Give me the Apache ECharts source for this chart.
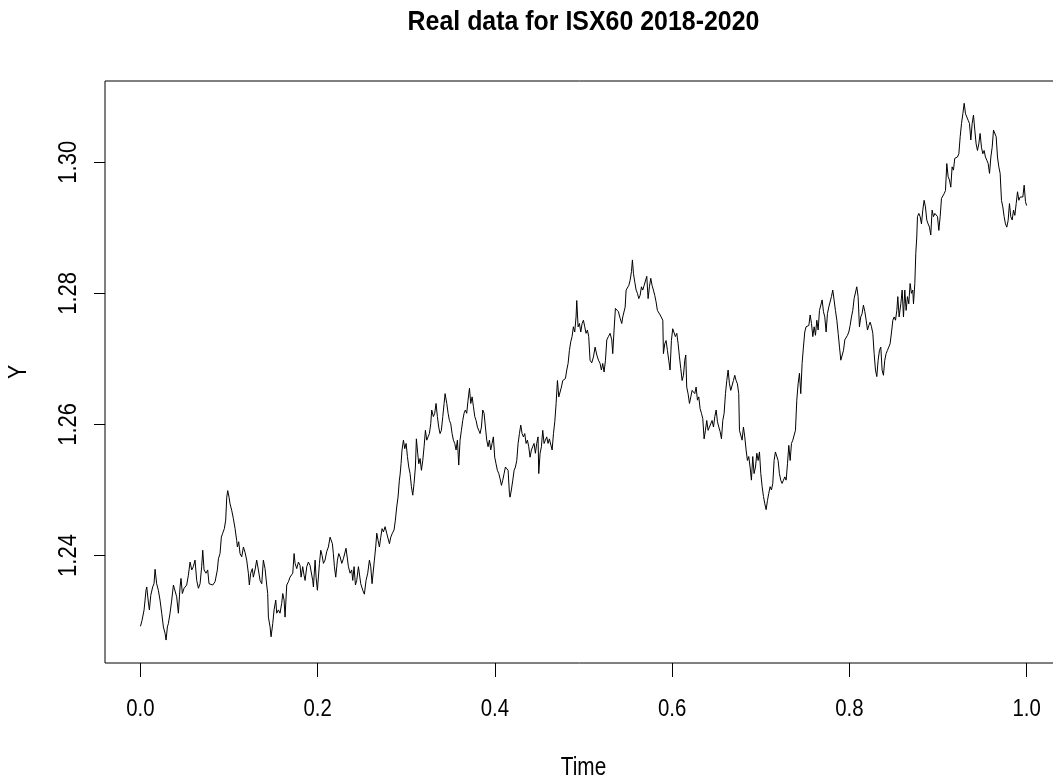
<!DOCTYPE html>
<html>
<head>
<meta charset="utf-8">
<title>Real data for ISX60 2018-2020</title>
<script src="https://cdn.jsdelivr.net/npm/echarts@6/dist/echarts.min.js"></script>
<style>
  html, body { margin: 0; padding: 0; background: #ffffff; }
  #chart { width: 1053px; height: 783px; }
</style>
</head>
<body>
<div id="chart"></div>
<script>
// Scaled time (0..1) for each observation
const times = [
  0.0000,0.0018,0.0041,0.0052,0.0063,0.0071,0.0089,0.0101,0.0116,0.0138,0.0153,0.0165,0.0183,0.0202,0.0221,0.0240,0.0259,0.0278,0.0289,0.0304,
  0.0315,0.0334,0.0353,0.0372,0.0390,0.0409,0.0428,0.0447,0.0458,0.0473,0.0492,0.0522,0.0541,0.0560,0.0579,0.0597,0.0616,0.0635,0.0654,0.0673,
  0.0691,0.0703,0.0718,0.0740,0.0759,0.0774,0.0793,0.0816,0.0842,0.0868,0.0880,0.0898,0.0913,0.0928,0.0947,0.0962,0.0974,0.0985,0.1000,0.1011,
  0.1030,0.1049,0.1068,0.1086,0.1094,0.1109,0.1124,0.1143,0.1162,0.1180,0.1199,0.1218,0.1229,0.1244,0.1263,0.1274,0.1293,0.1312,0.1331,0.1350,
  0.1369,0.1387,0.1406,0.1425,0.1436,0.1444,0.1463,0.1474,0.1493,0.1508,0.1527,0.1538,0.1557,0.1575,0.1594,0.1606,0.1621,0.1632,
  0.1651,0.1670,0.1688,0.1719,0.1734,0.1745,0.1764,0.1783,0.1801,0.1813,0.1831,0.1846,0.1858,0.1877,0.1895,0.1914,0.1933,0.1944,0.1952,0.1971,
  0.1982,0.1997,0.2020,0.2035,0.2050,0.2065,0.2083,0.2102,0.2121,0.2140,0.2151,0.2166,0.2177,0.2189,0.2204,0.2223,0.2238,0.2253,0.2272,0.2290,
  0.2309,0.2320,0.2336,0.2347,0.2366,0.2384,0.2396,0.2411,0.2426,0.2441,0.2460,0.2471,0.2486,0.2509,0.2527,0.2546,0.2565,0.2584,0.2599,0.2614,
  0.2629,0.2640,0.2655,0.2667,0.2682,0.2697,0.2712,0.2727,0.2742,0.2761,0.2779,0.2798,0.2810,0.2825,0.2843,0.2862,0.2877,0.2892,0.2907,0.2922,
  0.2930,0.2941,0.2952,0.2968,0.2983,0.2998,0.3013,0.3028,0.3043,0.3058,0.3073,0.3088,0.3103,0.3114,0.3129,0.3141,0.3156,0.3171,0.3186,0.3201,
  0.3216,0.3231,0.3246,0.3261,0.3276,0.3287,0.3306,
  0.3321,0.3336,0.3351,0.3366,0.3381,0.3396,0.3412,0.3427,0.3438,0.3457,0.3472,0.3487,0.3502,0.3517,0.3532,0.3547,0.3562,0.3577,0.3592,0.3607,
  0.3622,0.3637,0.3652,0.3667,0.3682,0.3697,0.3713,0.3728,0.3743,0.3758,0.3773,0.3788,0.3803,0.3818,0.3833,0.3848,0.3863,0.3878,0.3893,0.3908,
  0.3923,0.3938,0.3953,0.3968,0.3983,0.3998,0.4013,0.4028,0.4044,0.4059,0.4074,0.4089,0.4104,0.4119,0.4134,0.4149,0.4164,0.4171,0.4186,0.4202,
  0.4217,0.4232,0.4247,0.4262,0.4277,0.4292,0.4307,0.4322,0.4337,0.4352,0.4367,0.4382,0.4397,0.4412,0.4427,0.4442,0.4457,0.4472,0.4487,0.4495,
  0.4510,0.4525,0.4540,0.4555,0.4570,0.4585,0.4600,0.4615,0.4630,0.4646,0.4661,0.4676,0.4691,0.4706,0.4721,0.4736,0.4751,0.4766,0.4781,0.4796,
  0.4811,0.4826,0.4841,0.4856,0.4871,0.4886,0.4901,0.4916,0.4924,0.4939,0.4954,0.4969,0.4984,0.4999,0.5014,0.5029,0.5044,0.5059,0.5074,
  0.5093,0.5112,0.5131,0.5150,0.5169,0.5187,0.5202,0.5217,0.5232,0.5248,0.5263,0.5281,0.5300,0.5319,0.5330,0.5345,0.5360,0.5375,0.5394,0.5413,
  0.5432,0.5443,0.5458,0.5470,0.5481,0.5496,0.5511,0.5526,0.5541,0.5552,0.5564,0.5579,0.5594,0.5609,0.5624,0.5639,0.5654,0.5669,0.5684,0.5699,
  0.5714,0.5729,0.5744,0.5759,0.5774,0.5789,0.5804,0.5819,0.5834,0.5850,0.5865,0.5880,0.5895,0.5902,0.5917,0.5932,0.5947,0.5962,0.5977,0.5992,
  0.6007,0.6022,0.6037,0.6053,0.6068,0.6083,0.6098,0.6113,0.6128,0.6143,0.6154,0.6165,0.6180,0.6196,0.6211,0.6226,0.6241,0.6256,0.6271,0.6286,
  0.6301,0.6316,0.6331,0.6346,0.6361,0.6376,0.6391,0.6406,0.6421,0.6436,0.6451,0.6467,0.6482,0.6497,0.6512,0.6527,0.6542,0.6557,0.6572,0.6587,
  0.6602,0.6617,0.6632,0.6647,0.6662,0.6677,0.6692,0.6707,0.6722,0.6737,0.6752,0.6760,
  0.6775,0.6790,0.6805,0.6820,0.6835,0.6850,0.6865,0.6880,0.6895,0.6910,0.6925,0.6941,0.6956,0.6971,0.6986,0.7001,0.7016,0.7031,0.7046,0.7061,
  0.7076,0.7091,0.7106,0.7121,0.7136,0.7151,0.7166,0.7181,0.7196,0.7211,0.7226,0.7241,0.7257,0.7272,0.7287,0.7302,0.7317,0.7332,0.7347,0.7362,
  0.7377,0.7392,0.7407,0.7422,0.7437,0.7452,0.7467,0.7482,0.7497,0.7512,0.7527,0.7543,0.7558,0.7573,0.7588,0.7603,0.7618,0.7633,0.7648,0.7663,
  0.7678,0.7693,0.7708,0.7723,0.7738,0.7753,0.7768,0.7783,0.7798,0.7813,0.7828,0.7843,0.7859,0.7874,0.7889,0.7904,0.7919,0.7934,0.7949,0.7964,
  0.7979,0.7994,0.8009,0.8024,0.8039,0.8054,0.8069,0.8084,0.8099,0.8114,0.8129,0.8144,0.8159,0.8175,0.8190,0.8205,0.8220,0.8235,0.8250,0.8265,
  0.8280,0.8295,0.8310,0.8325,0.8340,0.8355,0.8370,0.8385,0.8400,0.8415,0.8430,0.8445,
  0.8460,0.8479,0.8491,0.8506,0.8521,0.8536,0.8547,0.8562,0.8581,0.8596,0.8611,0.8626,0.8641,0.8656,0.8671,0.8686,0.8701,0.8716,0.8724,0.8739,
  0.8750,0.8761,0.8769,0.8784,0.8799,0.8814,0.8829,0.8844,0.8859,0.8874,0.8889,0.8904,0.8919,0.8934,0.8950,0.8965,0.8980,0.8995,0.9010,0.9025,
  0.9040,0.9055,0.9070,0.9085,0.9100,0.9115,0.9130,0.9145,0.9160,0.9175,0.9190,0.9205,0.9220,0.9236,0.9251,0.9266,0.9281,0.9296,0.9311,0.9326,
  0.9341,0.9356,0.9371,0.9386,0.9401,0.9416,0.9431,0.9446,0.9461,0.9476,0.9491,0.9506,0.9521,0.9536,0.9552,0.9567,0.9582,0.9597,0.9612,0.9627,
  0.9642,0.9657,0.9672,0.9687,0.9702,0.9717,0.9732,0.9747,0.9762,0.9777,0.9792,0.9807,0.9822,0.9838,0.9853,0.9868,0.9883,0.9898,0.9913,0.9928,
  0.9943,0.9958,0.9973,0.9988,1.0000
];

// Index level Y at each time
const values = [
  1.2292,1.2301,1.2317,1.2332,1.2347,1.2352,1.2329,1.2317,1.2339,1.2352,1.2357,1.2379,1.2357,1.2347,1.2332,1.2312,1.2291,1.2281,1.2271,1.2291,
  1.2296,1.2312,1.2332,1.2355,1.2355,1.2337,1.2312,1.2352,1.2365,1.2342,1.2350,1.2355,1.2370,1.2390,1.2378,1.2383,1.2393,1.2362,1.2350,1.2357,
  1.2383,1.2408,1.2378,1.2373,1.2378,1.2357,1.2355,1.2355,1.2360,1.2378,1.2395,1.2403,1.2428,1.2434,1.2441,1.2454,1.2489,1.2499,1.2489,1.2479,
  1.2469,1.2456,1.2441,1.2423,1.2413,1.2421,1.2403,1.2398,1.2413,1.2405,1.2393,1.2373,1.2355,1.2373,1.2380,1.2367,1.2378,1.2393,1.2378,1.2362,
  1.2357,1.2393,1.2380,1.2355,1.2342,1.2306,1.2291,1.2276,1.2296,1.2317,1.2332,1.2312,1.2317,1.2312,1.2327,1.2342,1.2332,1.2306,
  1.2355,1.2360,1.2367,1.2373,1.2403,1.2388,1.2380,1.2390,1.2385,1.2367,1.2383,1.2370,1.2362,1.2383,1.2390,1.2385,1.2383,1.2362,1.2352,1.2393,
  1.2367,1.2347,1.2388,1.2408,1.2400,1.2388,1.2393,1.2406,1.2413,1.2428,1.2431,1.2418,1.2403,1.2383,1.2367,1.2393,1.2403,1.2398,1.2388,1.2395,
  1.2398,1.2411,1.2408,1.2383,1.2373,1.2378,1.2362,1.2383,1.2355,1.2362,1.2383,1.2385,1.2357,1.2347,1.2341,1.2362,1.2373,1.2393,1.2383,1.2357,
  1.2355,1.2393,1.2413,1.2434,1.2423,1.2413,1.2428,1.2441,1.2436,1.2444,1.2434,1.2436,1.2418,1.2428,1.2434,1.2439,1.2454,1.2474,1.2489,1.2515,
  1.2523,1.2540,1.2561,1.2576,1.2563,1.2571,1.2551,1.2535,1.2525,1.2505,1.2492,1.2510,1.2535,1.2578,1.2556,1.2540,1.2548,1.2530,1.2545,1.2566,
  1.2591,1.2576,1.2581,1.2586,1.2601,1.2622,1.2612,
  1.2617,1.2632,1.2612,1.2596,1.2586,1.2591,1.2612,1.2632,1.2647,1.2632,1.2617,1.2606,1.2601,1.2586,1.2576,1.2571,1.2561,1.2576,1.2538,1.2576,
  1.2591,1.2606,1.2617,1.2622,1.2617,1.2637,1.2655,1.2632,1.2642,1.2627,1.2612,1.2606,1.2596,1.2591,1.2586,1.2596,1.2622,1.2617,1.2596,1.2576,
  1.2566,1.2576,1.2561,1.2571,1.2581,1.2550,1.2540,1.2530,1.2525,1.2517,1.2507,1.2515,1.2525,1.2535,1.2538,1.2530,1.2495,1.2489,1.2500,1.2515,
  1.2530,1.2535,1.2545,1.2571,1.2586,1.2599,1.2586,1.2581,1.2586,1.2571,1.2576,1.2566,1.2550,1.2561,1.2558,1.2571,1.2556,1.2571,1.2581,1.2525,
  1.2556,1.2566,1.2591,1.2571,1.2576,1.2581,1.2571,1.2578,1.2576,1.2561,1.2586,1.2604,1.2632,1.2667,1.2642,1.2639,1.2657,1.2667,1.2667,1.2670,
  1.2683,1.2693,1.2713,1.2726,1.2734,1.2749,1.2741,1.2764,1.2789,1.2749,1.2754,1.2741,1.2754,1.2759,1.2749,1.2739,1.2744,1.2734,1.2698,
  1.2694,1.2703,1.2718,1.2706,1.2698,1.2693,1.2683,1.2693,1.2680,1.2698,1.2729,1.2734,1.2739,1.2729,1.2708,1.2744,1.2777,1.2779,1.2772,1.2762,
  1.2754,1.2764,1.2762,1.2779,1.2805,1.2802,1.2812,1.2820,1.2833,1.2851,1.2830,1.2817,1.2805,1.2800,1.2792,1.2797,1.2810,1.2805,1.2812,1.2810,
  1.2826,1.2792,1.2810,1.2823,1.2812,1.2805,1.2797,1.2787,1.2774,1.2772,1.2767,1.2764,1.2759,1.2708,1.2723,1.2728,1.2713,1.2698,1.2683,1.2728,
  1.2746,1.2749,1.2734,1.2739,1.2723,1.2703,1.2685,1.2667,1.2675,1.2698,1.2706,1.2657,1.2647,1.2632,1.2642,1.2652,1.2655,1.2647,1.2657,1.2637,
  1.2642,1.2624,1.2617,1.2609,1.2578,1.2591,1.2606,1.2591,1.2596,1.2599,1.2606,1.2596,1.2612,1.2622,1.2604,1.2596,1.2589,1.2578,1.2606,1.2617,
  1.2647,1.2667,1.2683,1.2662,1.2652,1.2652,1.2667,1.2675,1.2667,1.2662,1.2647,1.2591,
  1.2591,1.2576,1.2596,1.2581,1.2561,1.2545,1.2551,1.2535,1.2515,1.2551,1.2525,1.2535,1.2556,1.2545,1.2558,1.2525,1.2505,1.2490,1.2479,1.2470,
  1.2484,1.2495,1.2505,1.2500,1.2510,1.2545,1.2558,1.2561,1.2545,1.2525,1.2515,1.2510,1.2515,1.2520,1.2515,1.2540,1.2568,1.2545,1.2571,1.2576,
  1.2579,1.2591,1.2637,1.2662,1.2678,1.2647,1.2693,1.2718,1.2741,1.2749,1.2746,1.2751,1.2767,1.2754,1.2734,1.2749,1.2736,1.2759,1.2744,1.2774,
  1.2772,1.2790,1.2772,1.2764,1.2741,1.2769,1.2779,1.2782,1.2795,1.2805,1.2790,1.2774,1.2759,1.2739,1.2718,1.2698,1.2695,1.2713,1.2729,1.2726,
  1.2736,1.2741,1.2751,1.2764,1.2774,1.2792,1.2795,1.2810,1.2795,1.2749,1.2764,1.2769,1.2782,1.2772,1.2759,1.2744,1.2751,1.2756,1.2749,1.2739,
  1.2708,1.2683,1.2673,1.2698,1.2713,1.2718,1.2683,1.2675,1.2698,1.2708,1.2713,1.2718,
  1.2723,1.2744,1.2759,1.2764,1.2759,1.2774,1.2795,1.2764,1.2784,1.2805,1.2764,1.2805,1.2774,1.2795,1.2784,1.2815,1.2800,1.2805,1.2784,1.2815,
  1.2861,1.2886,1.2917,1.2922,1.2917,1.2906,1.2927,1.2942,1.2932,1.2912,1.2906,1.2901,1.2889,1.2927,1.2917,1.2922,1.2924,1.2917,1.2896,1.2917,
  1.2945,1.2947,1.2952,1.2957,1.2998,1.2978,1.2973,1.2962,1.2993,1.2988,1.3006,1.3003,1.3008,1.3013,1.3039,1.3059,1.3074,1.3090,1.3074,1.3069,
  1.3064,1.3059,1.3034,1.3059,1.3072,1.3049,1.3028,1.3018,1.3028,1.3044,1.3023,1.3013,1.3018,1.3008,1.3003,1.2998,1.2983,1.3008,1.3023,1.3049,
  1.3051,1.3039,1.3008,1.2993,1.2983,1.2942,1.2932,1.2917,1.2906,1.2901,1.2911,1.2937,1.2917,1.2912,1.2927,1.2919,1.2937,1.2955,1.2942,1.2947,
  1.2950,1.2947,1.2965,1.2940,1.2934
];

// Axis ticks and labels
const xTicks = [0, 0.2, 0.4, 0.6, 0.8, 1.0];
const yTicks = [1.24, 1.26, 1.28, 1.30];

const titleText = 'Real data for ISX60 2018-2020';
const xName = 'Time';
const yName = 'Y';

// Axis extents (plot region padded around the data range)
const X_MIN = -0.04, X_MAX = 1.04;
const Y_MIN = 1.2236, Y_MAX = 1.3124;

const FONT = '"Liberation Sans", Arial, Helvetica, sans-serif';

const chart = echarts.init(document.getElementById('chart'), null, { renderer: 'canvas' });

chart.setOption({
  animation: false,
  backgroundColor: '#ffffff',
  grid: {
    left: 105,
    top: 81,
    width: 957,
    height: 582,
    show: true,
    borderColor: '#000000',
    borderWidth: 1,
    backgroundColor: 'transparent',
    containLabel: false,
    outerBoundsMode: 'none'
  },
  xAxis: {
    type: 'value',
    min: X_MIN,
    max: X_MAX,
    axisLine: { show: false, onZero: false },
    splitLine: { show: false },
    axisTick: {
      show: true,
      inside: false,
      length: 14,
      customValues: xTicks,
      lineStyle: { color: '#000000', width: 1 }
    },
    axisLabel: { show: false }
  },
  yAxis: {
    type: 'value',
    min: Y_MIN,
    max: Y_MAX,
    axisLine: { show: false, onZero: false },
    splitLine: { show: false },
    axisTick: {
      show: true,
      inside: false,
      length: 11,
      customValues: yTicks,
      lineStyle: { color: '#000000', width: 1 }
    },
    axisLabel: { show: false }
  },
  series: [{
    type: 'line',
    data: times.map((t, i) => [t, values[i]]),
    showSymbol: false,
    symbol: 'none',
    clip: true,
    lineStyle: { color: '#000000', width: 1 },
    emphasis: { disabled: true }
  }]
});

// Text is set in a condensed sans: glyphs are squeezed along the reading direction.
function textEl(text, x, y, opts) {
  return {
    type: 'text',
    x: x,
    y: y,
    rotation: opts.rotation || 0,
    scaleX: opts.squeeze,
    silent: true,
    style: {
      text: text,
      fontFamily: FONT,
      fontSize: opts.size,
      fontWeight: opts.weight || 'normal',
      fill: '#000000',
      align: 'center',
      verticalAlign: 'middle',
      textAlign: 'center',
      textVerticalAlign: 'middle'
    }
  };
}

const toPx = (x, y) => chart.convertToPixel({ gridIndex: 0 }, [x, y]);
const plotLeft = toPx(X_MIN, Y_MIN)[0];
const plotRight = toPx(X_MAX, Y_MIN)[0];
const plotBottom = toPx(X_MIN, Y_MIN)[1];
const plotTop = toPx(X_MIN, Y_MAX)[1];
const plotMidX = (plotLeft + plotRight) / 2;
const plotMidY = (plotTop + plotBottom) / 2;

const texts = [];
texts.push(textEl(titleText, plotMidX, plotTop - 59, { size: 28, weight: 'bold', squeeze: 0.89 }));
xTicks.forEach(v => {
  texts.push(textEl(v.toFixed(1), toPx(v, Y_MIN)[0], plotBottom + 46.5, { size: 24, squeeze: 0.85 }));
});
texts.push(textEl(xName, plotMidX, plotBottom + 105.5, { size: 25, squeeze: 0.83 }));
yTicks.forEach(v => {
  texts.push(textEl(v.toFixed(2), plotLeft - 35.5, toPx(X_MIN, v)[1], { size: 25, squeeze: 0.88, rotation: Math.PI / 2 }));
});
texts.push(textEl(yName, plotLeft - 85.5, plotMidY, { size: 25, squeeze: 0.85, rotation: Math.PI / 2 }));

chart.setOption({ graphic: { elements: texts } });
</script>
</body>
</html>
